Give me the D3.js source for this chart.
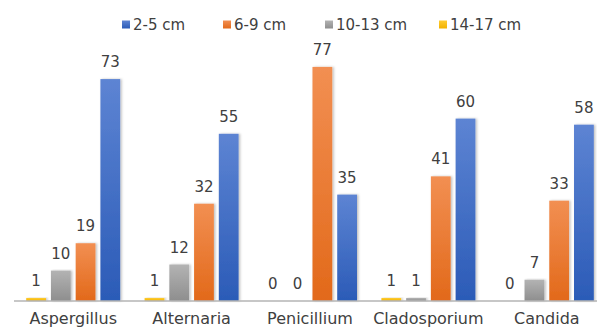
<!DOCTYPE html>
<html>
<head>
<meta charset="utf-8">
<script src="https://cdn.jsdelivr.net/npm/d3@7"></script>
<style>
  body { margin: 0; background: #fff; }
  text { font-family: "DejaVu Sans", "Noto Sans", sans-serif; fill: #404040; }
</style>
</head>
<body>
<div id="chart"></div>
<script>
// data
let categories = ["Aspergillus", "Alternaria", "Penicillium", "Cladosporium", "Candida"];
let seriesNames = ["2-5 cm", "6-9 cm", "10-13 cm", "14-17 cm"];
let size2to5 = [73, 55, 35, 60, 58];
let size6to9 = [19, 32, 77, 41, 33];
let size10to13 = [10, 12, 0, 1, 7];
let size14to17 = [1, 1, 0, 1, 0];

let width = 597, height = 327;

// bars are drawn left-to-right in reverse legend order
let series = [
  { name: seriesNames[3], values: size14to17, top: "#ffcc33", bottom: "#f2b200", key: "s3" },
  { name: seriesNames[2], values: size10to13, top: "#b3b3b3", bottom: "#8e8e8e", key: "s2" },
  { name: seriesNames[1], values: size6to9, top: "#f28f52", bottom: "#e2691a", key: "s1" },
  { name: seriesNames[0], values: size2to5, top: "#5d84d3", bottom: "#2b5bb7", key: "s0" }
];
let legendOrder = [series[3], series[2], series[1], series[0]];

let svg = d3.select("#chart").append("svg")
  .attr("width", width).attr("height", height);

let defs = svg.append("defs");
series.forEach(s => {
  let g = defs.append("linearGradient")
    .attr("id", "grad-" + s.key)
    .attr("x1", 0).attr("y1", 0).attr("x2", 0).attr("y2", 1);
  g.append("stop").attr("offset", "0%").attr("stop-color", s.top);
  g.append("stop").attr("offset", "100%").attr("stop-color", s.bottom);
});
let shadow = defs.append("filter").attr("id", "shadow")
  .attr("x", "-20%").attr("y", "-5%").attr("width", "150%").attr("height", "110%");
shadow.append("feDropShadow")
  .attr("dx", 1.5).attr("dy", 0).attr("stdDeviation", 1)
  .attr("flood-color", "#000").attr("flood-opacity", 0.25);

// scales
let xScale = d3.scaleBand()
  .domain(categories)
  .range([14, 606])
  .paddingInner(0).paddingOuter(0);

let xInner = d3.scaleBand()
  .domain(series.map(s => s.key))
  .range([(xScale.bandwidth() - 94) / 2, (xScale.bandwidth() + 94) / 2])
  .paddingInner(0.2);

let yScale = d3.scaleLinear()
  .domain([0, 80])
  .range([301, 57.8]);

// bars
let groups = svg.append("g").selectAll("g")
  .data(series)
  .enter()
  .append("g");

groups.selectAll("rect")
  .data(s => s.values.map((v, i) => ({ s: s, v: v, cat: categories[i] })))
  .enter()
  .append("rect")
  .attr("x", d => xScale(d.cat) + xInner(d.s.key))
  .attr("y", d => yScale(d.v))
  .attr("width", xInner.bandwidth())
  .attr("height", d => yScale(0) - yScale(d.v))
  .attr("fill", d => "url(#grad-" + d.s.key + ")")
  .attr("filter", "url(#shadow)");

// value labels
groups.selectAll("text")
  .data(s => s.values.map((v, i) => ({ s: s, v: v, cat: categories[i] })))
  .enter()
  .append("text")
  .attr("x", d => xScale(d.cat) + xInner(d.s.key) + xInner.bandwidth() / 2)
  .attr("y", d => yScale(d.v) - 12)
  .attr("text-anchor", "middle")
  .style("font-size", "15px")
  .text(d => d.v);

// baseline axis
let xAxis = svg.append("g")
  .attr("transform", "translate(0, 301)")
  .call(d3.axisBottom(xScale).tickSize(0).tickPadding(12));
xAxis.select(".domain")
  .attr("d", "M14,0H597")
  .attr("stroke", "#b4b4b4")
  .attr("stroke-width", 1.5);
xAxis.selectAll(".tick text")
  .style("font-size", "16px")
  .style("font-family", "\"DejaVu Sans\", sans-serif")
  .attr("fill", "#404040");

// legend
let legendX = [122, 223, 325, 439];
let legend = svg.append("g").selectAll("g")
  .data(legendOrder)
  .enter()
  .append("g")
  .attr("transform", (d, i) => `translate(${legendX[i]}, 24.5)`);
legend.append("rect")
  .attr("x", 0).attr("y", -4)
  .attr("width", 8).attr("height", 8)
  .attr("fill", d => "url(#grad-" + d.key + ")");
legend.append("text")
  .attr("x", 11).attr("y", 5.5)
  .style("font-size", "15px")
  .text(d => d.name);
</script>
</body>
</html>
